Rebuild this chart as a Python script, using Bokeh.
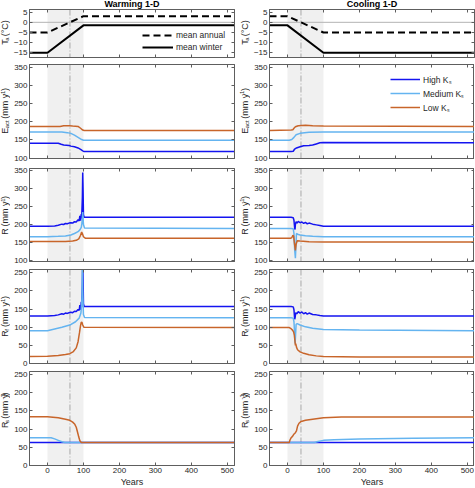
import math
from bokeh.plotting import figure
from bokeh.models import (Range1d, FixedTicker, LinearAxis, Span, BoxAnnotation,
                          Legend, LegendItem, CustomJSTickFormatter, ColumnDataSource)
from bokeh.core.properties import value
from bokeh.layouts import gridplot
from bokeh.embed import file_html
from bokeh.resources import INLINE

# ---------------- data ----------------
TITLES = ["Warming 1-D", "Cooling 1-D"]
X_RANGE = [-50, 520]
X_TICKS = [0, 100, 200, 300, 400, 500]
TRANSITION = [0, 100]          # shaded transition period (years)
ZERO_CROSS = [62.5, 37.5]      # year mean annual T crosses 0 degC (warming, cooling)
TA_TICKS = [-15, -10, -5, 0, 5]
FLUX_TICKS = [100, 150, 200, 250, 300, 350]
R_TICKS = [0, 50, 100, 150, 200, 250]
K_LABELS = ["High Kₛ", "Medium Kₛ", "Low Kₛ"]
TA_LABELS = ["mean annual", "mean winter"]

# Warming 1-D
W_TA_YR = [-50, 0, 100, 520]
W_TA_ANNUAL = [-5, -5, 3, 3]
W_TA_WINTER = [-15, -15, -1.5, -1.5]

W_E_HIGH_YR = [-50, 30, 38, 45, 60, 65, 75, 85, 92, 98, 102, 520]
W_E_HIGH = [141, 141, 138, 136, 135, 133, 131, 128, 124, 120, 118, 118]
W_E_MED_YR = [-50, 40, 55, 65, 75, 85, 95, 100, 520]
W_E_MED = [172, 172, 170, 168, 163, 157, 151, 149, 149]
W_E_LOW_YR = [-50, 35, 45, 60, 70, 85, 92, 98, 102, 520]
W_E_LOW = [187, 187, 189, 189, 188, 187, 182, 177, 176, 176]

W_R_HIGH_YR = [-50, 0, 20, 30, 40, 45, 50, 55, 60, 65, 70, 75, 80, 85, 88, 90, 92, 94, 95, 97, 98, 99, 100, 102, 520]
W_R_HIGH = [195, 195, 196, 198, 201, 200, 203, 202, 204, 205, 204, 208, 207, 213, 210, 224, 211, 229, 217, 275, 345, 295, 228, 220, 220]
W_R_MED_YR = [-50, 0, 30, 50, 65, 75, 85, 90, 94, 96, 98, 100, 103, 520]
W_R_MED = [166, 166, 167, 168, 171, 175, 180, 185, 192, 205, 235, 200, 190, 189]
W_R_LOW_YR = [-50, 0, 50, 70, 80, 87, 92, 95, 97, 100, 105, 520]
W_R_LOW = [153, 153, 153, 154, 156, 160, 170, 179, 175, 166, 162, 162]

W_RF_HIGH_YR = [-50, 0, 20, 30, 40, 45, 50, 55, 60, 65, 70, 75, 80, 85, 88, 90, 92, 94, 95, 97, 98, 99, 100, 102, 520]
W_RF_HIGH = [131, 131, 132, 134, 137, 136, 139, 138, 140, 141, 140, 144, 143, 149, 146, 161, 148, 170, 155, 215, 285, 235, 165, 157, 157]
W_RF_MED_YR = [-50, 0, 20, 40, 62, 78, 88, 93, 96, 97, 98, 100, 103, 520]
W_RF_MED = [90, 90, 95, 100, 106, 115, 125, 139, 180, 262, 200, 135, 127, 126]
W_RF_LOW_YR = [-50, 0, 30, 50, 62, 72, 80, 85, 89, 92, 94, 96, 98, 101, 520]
W_RF_LOW = [19, 20, 22, 25, 27, 33, 43, 60, 85, 105, 114, 113, 106, 100, 99]

W_RS_HIGH_YR = [-50, 520]
W_RS_HIGH = [63, 63]
W_RS_MED_YR = [-50, 10, 20, 30, 40, 48, 520]
W_RS_MED = [76, 76, 73, 69, 65, 63, 63]
W_RS_LOW_YR = [-50, 0, 30, 50, 62, 70, 76, 80, 84, 87, 90, 94, 520]
W_RS_LOW = [134, 134, 131, 127, 124, 119, 113, 105, 90, 78, 68, 63, 63]

# Cooling 1-D
C_TA_YR = [-50, 0, 100, 520]
C_TA_ANNUAL = [3, 3, -5, -5]
C_TA_WINTER = [-1.5, -1.5, -15, -15]

C_E_HIGH_YR = [-50, 10, 16, 20, 25, 35, 45, 60, 70, 80, 90, 100, 520]
C_E_HIGH = [118, 118, 119, 125, 128, 131, 134, 135, 136, 139, 142, 143, 142]
C_E_MED_YR = [-50, 5, 12, 18, 24, 35, 60, 100, 520]
C_E_MED = [149, 149, 151, 157, 164, 168, 171, 172, 172]
C_E_LOW_YR = [-50, 10, 15, 18, 22, 30, 50, 70, 100, 520]
C_E_LOW = [176, 177, 178, 182, 186, 189, 190, 189, 188, 187]

C_R_HIGH_YR = [-50, 10, 16, 18, 20, 21, 22, 24, 27, 30, 35, 40, 45, 50, 55, 60, 70, 80, 90, 100, 520]
C_R_HIGH = [220, 220, 219, 212, 190, 186, 200, 208, 204, 209, 205, 207, 203, 206, 202, 204, 201, 199, 197, 195, 195]
C_R_MED_YR = [-50, 10, 16, 18, 20, 22, 23, 25, 28, 35, 50, 70, 100, 520]
C_R_MED = [189, 189, 188, 175, 130, 106, 130, 175, 173, 171, 169, 167, 166, 166]
C_R_LOW_YR = [-50, 8, 12, 15, 17, 19, 21, 22, 24, 27, 35, 60, 100, 520]
C_R_LOW = [162, 162, 163, 170, 168, 150, 135, 128, 145, 155, 154, 152, 151, 151]

C_RF_HIGH_YR = [-50, 10, 16, 18, 20, 21, 23, 26, 30, 35, 40, 45, 50, 55, 60, 70, 80, 90, 100, 520]
C_RF_HIGH = [157, 157, 156, 148, 122, 125, 140, 137, 143, 139, 142, 137, 140, 136, 139, 135, 134, 132, 131, 131]
C_RF_MED_YR = [-50, 10, 16, 18, 20, 21, 22, 24, 27, 35, 50, 70, 100, 200, 520]
C_RF_MED = [126, 126, 125, 115, 80, 55, 70, 108, 110, 106, 101, 97, 94, 92, 90]
C_RF_LOW_YR = [-50, 5, 10, 14, 17, 19, 21, 22, 23, 25, 28, 35, 45, 60, 80, 100, 200, 520]
C_RF_LOW = [99, 99, 96, 92, 87, 78, 60, 50, 55, 45, 38, 32, 28, 24, 21, 19, 18, 18]

C_RS_HIGH_YR = [-50, 520]
C_RS_HIGH = [63, 63]
C_RS_MED_YR = [-50, 75, 85, 100, 130, 200, 350, 520]
C_RS_MED = [63, 63, 66, 69, 71, 73, 75, 76]
C_RS_LOW_YR = [-50, 5, 7, 10, 14, 17, 22, 25, 28, 32, 38, 50, 70, 100, 150, 520]
C_RS_LOW = [63, 63, 70, 76, 80, 85, 90, 95, 108, 116, 121, 124, 127, 131, 133, 133]

# ---------------- style ----------------
FONT = "Liberation Sans"
TXT = "#262626"
AX = "#5e5e5e"
K_COLORS = ["#1414f0", "#64b4f0", "#c8652a"]
FRAME_W = 205
ROWS = [(10, 48, 3), (4, 94, 5), (5, 93, 4), (4, 94, 4), (4, 94, 22)]   # top, frame, bottom
COLS = [(17, 3), (17, 1)]                                               # plot left, right borders
LAB_W = [14, 13]                                                        # y-label strip widths
LAB_BASE = [8.4, 7.2]                                                   # baseline x inside strip
Y_RANGES = [(-17.3, 6.3), (99, 357), (97, 356), (0, 259), (0, 258)]
Y_TICKS = [TA_TICKS, FLUX_TICKS, FLUX_TICKS, R_TICKS, R_TICKS]
Y_LABELS = [
    [("T", "n"), ("a", "sub"), (" (°C)", "n")],
    [("E", "n"), ("act", "sub"), (" (mm y", "n"), ("-1", "sup"), (")", "n")],
    [("R", "n"), (" (mm y", "n"), ("-1", "sup"), (")", "n")],
    [("R", "n"), ("f", "sub"), (" (mm y", "n"), ("-1", "sup"), (")", "n")],
    [("R", "n"), ("s", "sub"), (" (mm y", "n"), ("-1", "sup"), (")", "n")],
]
CW = {' ': 278, '(': 333, ')': 333, '-': 333, '1': 556, '°': 400, 'C': 722, 'E': 667,
      'R': 722, 'T': 611, 'a': 556, 'c': 500, 't': 278, 'f': 278, 's': 500, 'm': 833, 'y': 500}
SIZES = {"n": 9, "sub": 6, "sup": 6}
SHIFT = {"n": 0, "sub": 2, "sup": -2.3}


def tw(s, size):
    return sum(CW.get(ch, 556) for ch in s) * size / 1000.0


def label_strip(c, r):
    top, fh, bot = ROWS[r]
    H = top + fh + bot
    W = LAB_W[c]
    f = figure(width=W, height=H, x_range=Range1d(0, W), y_range=Range1d(0, H),
               output_backend="svg", toolbar_location=None, x_axis_type=None, y_axis_type=None,
               min_border_left=0, min_border_right=0, min_border_top=0, min_border_bottom=0,
               outline_line_color=None, background_fill_color="white", border_fill_color="white")
    f.grid.visible = False
    pieces = Y_LABELS[r]
    total = sum(tw(t, SIZES[k]) for t, k in pieces)
    pos = H - (top + fh / 2.0) - total / 2.0
    xs, ys, texts, sizes = [], [], [], []
    for t, k in pieces:
        lead = len(t) - len(t.lstrip(" "))
        if lead:
            pos += tw(" " * lead, SIZES[k])
            t = t.lstrip(" ")
        xs.append(LAB_BASE[c] + SHIFT[k])
        ys.append(pos)
        texts.append(t)
        sizes.append(f"{SIZES[k]}px")
        pos += tw(t, SIZES[k])
    src = ColumnDataSource(dict(x=xs, y=ys, text=texts, size=sizes))
    f.text(x="x", y="y", text="text", source=src, angle=math.pi / 2,
           text_align="left", text_baseline="alphabetic",
           text_font=value(FONT), text_font_size={"field": "size"}, text_color=TXT)
    return f


def style_axis(ax, ticks, labels):
    ax.ticker = FixedTicker(ticks=ticks)
    ax.major_tick_in = 3
    ax.major_tick_out = 0
    ax.minor_tick_line_color = None
    ax.axis_line_color = AX
    ax.major_tick_line_color = AX
    ax.major_label_text_font = FONT
    ax.major_label_text_color = TXT
    if labels:
        ax.major_label_text_font_size = "8px"
        ax.major_label_standoff = 2
    else:
        ax.formatter = CustomJSTickFormatter(code="return '';")
        ax.major_label_text_font_size = "0px"
        ax.major_label_standoff = 0


SERIES = [
    [  # warming
        None,
        [(W_E_HIGH_YR, W_E_HIGH), (W_E_MED_YR, W_E_MED), (W_E_LOW_YR, W_E_LOW)],
        [(W_R_HIGH_YR, W_R_HIGH), (W_R_MED_YR, W_R_MED), (W_R_LOW_YR, W_R_LOW)],
        [(W_RF_HIGH_YR, W_RF_HIGH), (W_RF_MED_YR, W_RF_MED), (W_RF_LOW_YR, W_RF_LOW)],
        [(W_RS_HIGH_YR, W_RS_HIGH), (W_RS_MED_YR, W_RS_MED), (W_RS_LOW_YR, W_RS_LOW)],
    ],
    [  # cooling
        None,
        [(C_E_HIGH_YR, C_E_HIGH), (C_E_MED_YR, C_E_MED), (C_E_LOW_YR, C_E_LOW)],
        [(C_R_HIGH_YR, C_R_HIGH), (C_R_MED_YR, C_R_MED), (C_R_LOW_YR, C_R_LOW)],
        [(C_RF_HIGH_YR, C_RF_HIGH), (C_RF_MED_YR, C_RF_MED), (C_RF_LOW_YR, C_RF_LOW)],
        [(C_RS_HIGH_YR, C_RS_HIGH), (C_RS_MED_YR, C_RS_MED), (C_RS_LOW_YR, C_RS_LOW)],
    ],
]
TA = [(W_TA_YR, W_TA_ANNUAL, W_TA_WINTER), (C_TA_YR, C_TA_ANNUAL, C_TA_WINTER)]

grid = []
for r in range(5):
    row = []
    for c in range(2):
        top, fh, bot = ROWS[r]
        left, right = COLS[c]
        yr = Y_RANGES[r]
        p = figure(frame_width=FRAME_W, frame_height=fh,
                   x_range=Range1d(*X_RANGE), y_range=Range1d(*yr),
                   output_backend="svg", toolbar_location=None,
                   min_border_top=top, min_border_bottom=bot,
                   min_border_left=left, min_border_right=right,
                   background_fill_color="white", border_fill_color="white",
                   outline_line_color=AX, outline_line_width=1)
        p.xgrid.visible = False
        p.ygrid.visible = False
        xb = p.xaxis[0]
        style_axis(xb, X_TICKS, r == 4)
        style_axis(p.yaxis[0], Y_TICKS[r], True)
        if r == 4:
            xb.axis_label = "Years"
            xb.axis_label_text_font = FONT
            xb.axis_label_text_font_size = "9px"
            xb.axis_label_text_font_style = "normal"
            xb.axis_label_text_color = TXT
            xb.axis_label_standoff = 1
        ra = LinearAxis()
        style_axis(ra, Y_TICKS[r], False)
        p.add_layout(ra, "right")
        ta = LinearAxis()
        style_axis(ta, X_TICKS, False)
        p.add_layout(ta, "above")
        if r == 0:
            p.title.text = TITLES[c]
            p.title.align = "center"
            p.title.text_font = FONT
            p.title.text_font_size = "9px"
            p.title.text_font_style = "bold"
            p.title.text_color = "#000000"
            p.title.standoff = 1
            p.title.text_line_height = 1.0

        p.add_layout(BoxAnnotation(left=TRANSITION[0], right=TRANSITION[1],
                                   fill_color="#f0f0f0", fill_alpha=1.0,
                                   line_color=None, level="underlay"))
        p.add_layout(Span(location=ZERO_CROSS[c], dimension="height", line_color="#a8a8a8",
                          line_width=1, line_dash="6 2 1 2", level="underlay"))

        if r == 0:
            yrs, ann, win = TA[c]
            p.add_layout(Span(location=0, dimension="width", line_color="#b4b4b4",
                              line_width=1, level="underlay"))
            r_ann = p.line(yrs, ann, line_color="black", line_width=2, line_dash="7 4")
            r_win = p.line(yrs, win, line_color="black", line_width=2)
            if c == 0:
                leg = Legend(items=[LegendItem(label=TA_LABELS[0], renderers=[r_ann]),
                                    LegendItem(label=TA_LABELS[1], renderers=[r_win])],
                             location=(113, 5), padding=0, margin=0, spacing=2,
                             glyph_width=31, glyph_height=10, label_height=10,
                             label_standoff=3, label_text_font=FONT,
                             label_text_font_size="8.5px", label_text_color=TXT,
                             border_line_color=None, background_fill_alpha=0)
                p.add_layout(leg)
        else:
            rends = []
            for (xs, ys), col in zip(SERIES[c][r], K_COLORS):
                rends.append(p.line(xs, ys, line_color=col, line_width=1.5))
            if r == 1 and c == 1:
                leg = Legend(items=[LegendItem(label=lab, renderers=[rr])
                                    for lab, rr in zip(K_LABELS, rends)],
                             location=(121, 45), padding=0, margin=0, spacing=2,
                             glyph_width=30, glyph_height=12, label_height=12,
                             label_standoff=3, label_text_font=FONT,
                             label_text_font_size="8.5px", label_text_color=TXT,
                             border_line_color=None, background_fill_alpha=0)
                p.add_layout(leg)
        row.append(label_strip(c, r))
        row.append(p)
    grid.append(row)

layout = gridplot(grid, toolbar_location=None)
layout.margin = (-4, -4, -4, -4)

open("out.html", "w").write(file_html(layout, INLINE))
